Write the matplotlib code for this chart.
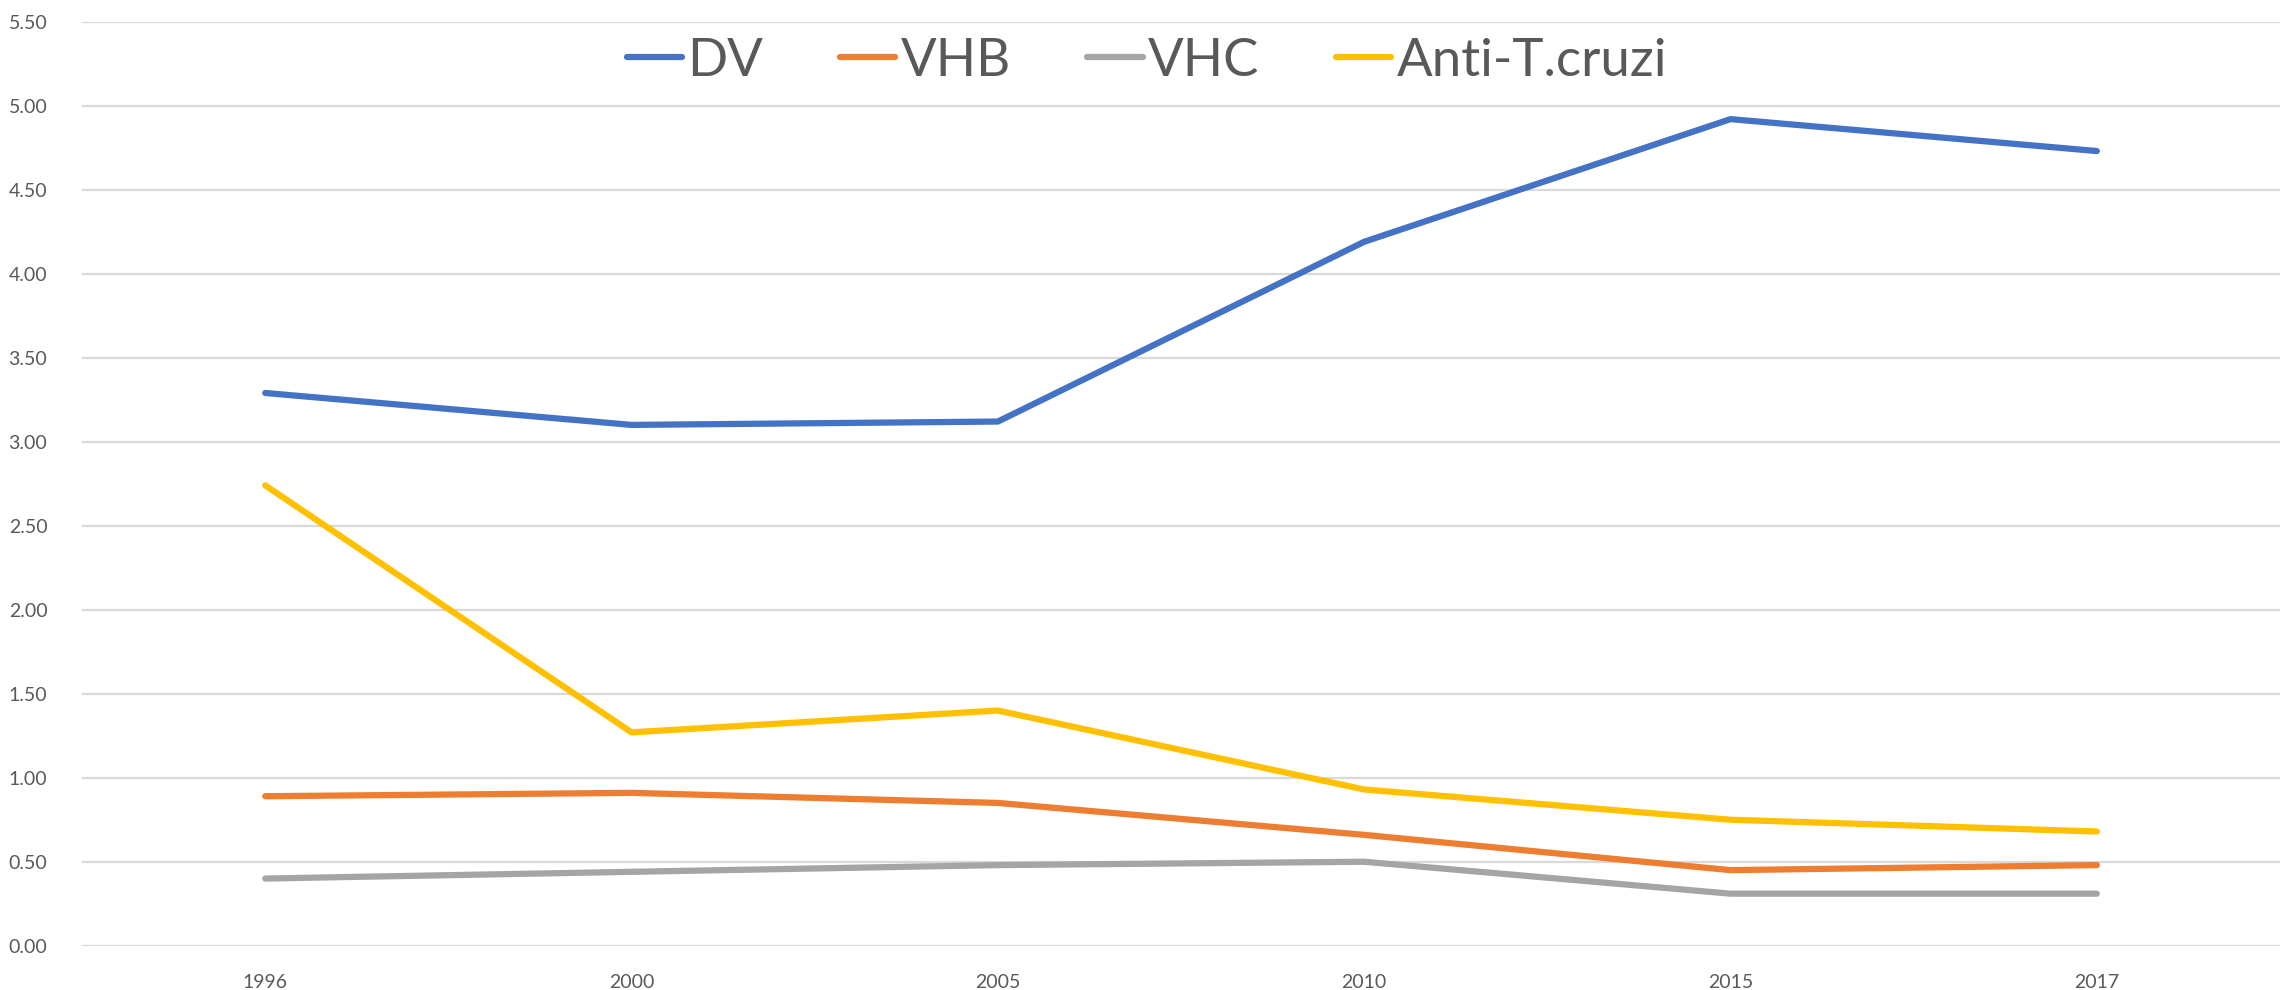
import matplotlib
matplotlib.use("Agg")
import matplotlib.pyplot as plt
from matplotlib import font_manager

years = ["1996", "2000", "2005", "2010", "2015", "2017"]
dv = [3.29, 3.10, 3.12, 4.19, 4.92, 4.73]
vhb = [0.89, 0.91, 0.85, 0.66, 0.45, 0.48]
vhc = [0.40, 0.44, 0.48, 0.50, 0.31, 0.31]
anti_tcruzi = [2.74, 1.27, 1.40, 0.93, 0.75, 0.68]
series_names = ["DV", "VHB", "VHC", "Anti-T.cruzi"]
colors = ["#4472C4", "#ED7D31", "#A5A5A5", "#FFC000"]
yticks = [0.0, 0.5, 1.0, 1.5, 2.0, 2.5, 3.0, 3.5, 4.0, 4.5, 5.0, 5.5]

available = {f.name for f in font_manager.fontManager.ttflist}
fam = "Liberation Sans Narrow" if "Liberation Sans Narrow" in available else "Lato"
plt.rcParams['font.family'] = [fam, 'DejaVu Sans']

fig = plt.figure(figsize=(22.8, 9.9), dpi=100)
ax = fig.add_axes([0.036, 0.0447, 0.964, 0.9334])

x = list(range(len(years)))
for vals, name, c in zip([dv, vhb, vhc, anti_tcruzi], series_names, colors):
    ax.plot(x, vals, color=c, lw=4.5, label=name, solid_capstyle='round',
            solid_joinstyle='round', zorder=3)

ax.set_xlim(-0.5, len(years) - 0.5)
ax.set_ylim(0, 5.5)
ax.set_yticks(yticks)
ax.set_yticklabels([f"{v:.2f}" for v in yticks])
ax.set_xticks(x)
ax.set_xticklabels(years)
ax.tick_params(axis='both', length=0, labelsize=14, labelcolor="#595959")
ax.tick_params(axis='x', pad=20)
ax.tick_params(axis='y', pad=25)
ax.grid(axis='y', color="#D9D9D9", lw=1.6, zorder=0)
ax.grid(axis='x', visible=False)
for s in ax.spines.values():
    s.set_visible(False)

leg = fig.legend(*ax.get_legend_handles_labels(), loc='center',
                 bbox_to_anchor=(0.503, 0.938), bbox_transform=fig.transFigure,
                 ncol=4, frameon=False, fontsize=38, handlelength=1.05,
                 handletextpad=0.1, columnspacing=1.45, borderaxespad=0.0)
for t in leg.get_texts():
    t.set_color("#595959")

fig.savefig("out.png", dpi=100, facecolor="white")
